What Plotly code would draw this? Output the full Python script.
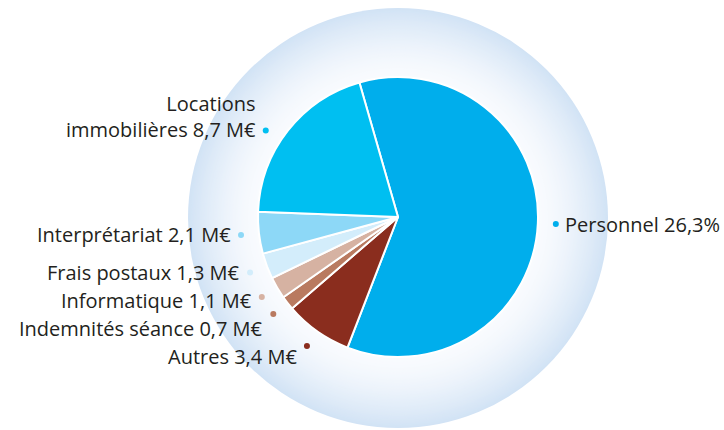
import math
import plotly.graph_objects as go

# ---- data ----
labels = ["Personnel", "Autres", "Indemnités séance", "Informatique",
          "Frais postaux", "Interprétariat", "Locations immobilières"]
values = [26.3, 3.4, 0.7, 1.1, 1.3, 2.1, 8.7]
label_texts = ["Personnel 26,3%", "Autres 3,4 M€", "Indemnités séance 0,7 M€",
               "Informatique 1,1 M€", "Frais postaux 1,3 M€",
               "Interprétariat 2,1 M€", "Locations<br>immobilières 8,7 M€"]
colors = ["#00AEEC", "#8A2D1E", "#B97A60", "#D6B2A2",
          "#D3EDFB", "#8DD8F7", "#00BFF1"]

# ---- layout geometry (pixels) ----
W, H = 724, 430
cx, cy = 398, 217          # pie centre
R = 140                    # pie radius
halo_cy = 218
halo_R = 210
dot_R = 158
min_gap = 28               # minimum vertical spacing between stacked labels
multi_drop = 11            # two-line label: last line sits a bit lower
rotation = -16             # degrees, first slice start (clockwise from 12 o'clock)
text_color = "#231F20"
font_family = "Open Sans, Noto Sans, sans-serif"

def px(x):
    return x / W

def py(y):
    return 1 - y / H

fig = go.Figure()

# halo: concentric circles approximating a radial gradient
edge = (210, 227, 245)
inner = (249, 251, 254)
shapes = []
r = halo_R
while r >= R - 2:
    t = (r - R) / (halo_R - R)
    t = max(0.0, min(1.0, t)) ** 1.5
    col = tuple(int(round(inner[i] + (edge[i] - inner[i]) * t)) for i in range(3))
    shapes.append(dict(type="circle", xref="paper", yref="paper",
                       x0=px(cx - r), x1=px(cx + r),
                       y0=py(halo_cy + r), y1=py(halo_cy - r),
                       fillcolor="rgb(%d,%d,%d)" % col, line=dict(width=0),
                       layer="below"))
    r -= 1.5

fig.add_trace(go.Pie(
    labels=labels, values=values, sort=False, direction="clockwise",
    rotation=rotation, textinfo="none", hoverinfo="label+value",
    marker=dict(colors=colors, line=dict(color="white", width=2)),
    domain=dict(x=[px(cx - R), px(cx + R)], y=[py(cy + R), py(cy - R)]),
    showlegend=False,
))

# dots at each slice's mid-angle
total = sum(values)
ang = rotation
items = []
for lab, v, txt, c in zip(labels, values, label_texts, colors):
    span = v / total * 360
    mid = math.radians(ang + span / 2)
    ang += span
    dx = cx + dot_R * math.sin(mid)
    dy = cy - dot_R * math.cos(mid)
    it = dict(x=dx, y=dy, txt=txt, c=c, right=math.sin(mid) > 0)
    if "<br>" in txt:
        # slide the dot along its circle so it sits level with the last line
        ny = dy + multi_drop
        it["y"] = ny
        it["x"] = cx - math.sqrt(max(dot_R ** 2 - (ny - cy) ** 2, 0))
    items.append(it)

# de-overlap left single-line labels (top to bottom)
left_single = sorted([it for it in items if not it["right"] and "<br>" not in it["txt"]],
                     key=lambda it: it["y"])
prev = -1e9
for it in left_single:
    it["ty"] = max(it["y"], prev + min_gap)
    prev = it["ty"]

annotations = []
for it in items:
    if it["right"]:
        annotations.append(dict(x=px(it["x"] + 7), y=py(it["y"]), text=it["txt"],
                                xanchor="left", yanchor="middle", showarrow=False,
                                align="left"))
    elif "<br>" in it["txt"]:
        annotations.append(dict(x=px(it["x"] - 8), y=py(it["y"]), text=it["txt"],
                                xanchor="right", yanchor="bottom", yshift=-14,
                                showarrow=False, align="right"))
    else:
        annotations.append(dict(x=px(it["x"] - 8), y=py(it["ty"]), text=it["txt"],
                                xanchor="right", yanchor="middle", showarrow=False,
                                align="right"))

fig.add_trace(go.Scatter(
    x=[px(it["x"]) for it in items], y=[py(it["y"]) for it in items],
    mode="markers", xaxis="x", yaxis="y",
    marker=dict(color=[it["c"] for it in items], size=6, line=dict(width=0)),
    hoverinfo="skip", showlegend=False,
))

fig.update_layout(
    width=W, height=H,
    margin=dict(l=0, r=0, t=0, b=0),
    paper_bgcolor="white", plot_bgcolor="rgba(0,0,0,0)",
    shapes=shapes,
    annotations=annotations,
    font=dict(family=font_family, size=20, color=text_color),
    xaxis=dict(range=[0, 1], domain=[0, 1], visible=False, fixedrange=True),
    yaxis=dict(range=[0, 1], domain=[0, 1], visible=False, fixedrange=True),
)

fig.write_html("out.html", config={"displayModeBar": False},
               post_script="document.body.style.margin='0';")
